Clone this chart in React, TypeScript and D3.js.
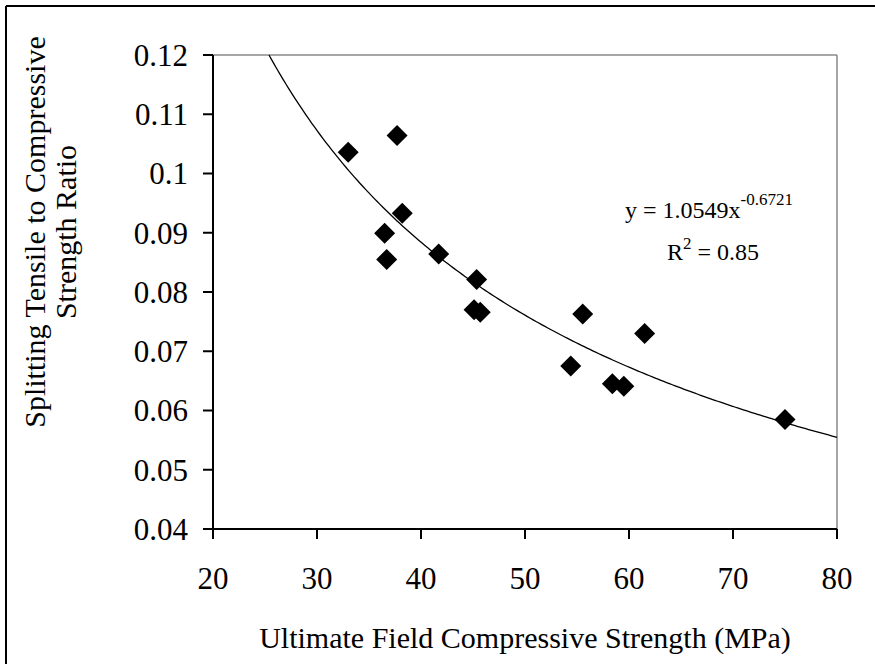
import React from "react";
import * as d3 from "d3";

const xValues = [33.0, 37.7, 38.2, 36.5, 36.7, 41.7, 45.35, 45.1, 45.7, 55.55, 54.4, 61.5, 58.4, 59.5, 75.0];
const yValues = [0.1036, 0.1064, 0.0933, 0.0899, 0.0855, 0.0864, 0.0821, 0.0770, 0.0766, 0.0763, 0.0675, 0.0730, 0.0645, 0.0641, 0.0585];
const xTicks = [20, 30, 40, 50, 60, 70, 80];
const yTicks = [0.04, 0.05, 0.06, 0.07, 0.08, 0.09, 0.1, 0.11, 0.12];
const trendCoef = 1.0549;
const trendExp = -0.6721;

const W = 875;
const H = 664;
const left = 213;
const right = 837;
const top = 55;
const bottom = 529;

export default function App() {
  const x = d3.scaleLinear().domain([20, 80]).range([left, right]);
  const y = d3.scaleLinear().domain([0.04, 0.12]).range([bottom, top]);

  const xStart = Math.pow(0.12 / trendCoef, 1 / trendExp);
  const curvePts: [number, number][] = d3.range(0, 201).map((i) => {
    const xv = xStart + ((80 - xStart) * i) / 200;
    return [xv, trendCoef * Math.pow(xv, trendExp)];
  });
  const line = d3
    .line<[number, number]>()
    .x((d) => x(d[0]))
    .y((d) => y(d[1]));

  const font = "'Liberation Serif', 'Times New Roman', serif";
  const d = 10.5;

  return (
    <svg
      width={W}
      height={H}
      style={{ position: "absolute", left: 0, top: 0, display: "block", background: "#fff" }}
      fontFamily={font}
    >
      <rect x={0} y={0} width={W} height={H} fill="#fff" />
      <line x1={6} y1={6} x2={W} y2={6} stroke="#000" strokeWidth={2} />
      <line x1={6} y1={6} x2={6} y2={H} stroke="#000" strokeWidth={2} />

      {/* plot frame top/right gray */}
      <line x1={left} y1={top} x2={right} y2={top} stroke="#888" strokeWidth={1.5} />
      <line x1={right} y1={top} x2={right} y2={bottom} stroke="#888" strokeWidth={1.5} />

      {/* y axis */}
      <line x1={left} y1={top} x2={left} y2={bottom + 10} stroke="#000" strokeWidth={2} />
      {yTicks.map((t) => (
        <g key={"y" + t}>
          <line x1={left - 10} x2={left} y1={y(t)} y2={y(t)} stroke="#000" strokeWidth={2} />
          <text x={188} y={y(t)} dy="0.35em" textAnchor="end" fontSize={31}>
            {String(t)}
          </text>
        </g>
      ))}

      {/* x axis */}
      <line x1={left - 10} y1={bottom} x2={right} y2={bottom} stroke="#000" strokeWidth={2} />
      {xTicks.map((t) => (
        <g key={"x" + t}>
          <line x1={x(t)} x2={x(t)} y1={bottom} y2={bottom + 10} stroke="#000" strokeWidth={2} />
          <text x={x(t)} y={589} textAnchor="middle" fontSize={31}>
            {String(t)}
          </text>
        </g>
      ))}

      {/* trendline */}
      <path d={line(curvePts) || ""} fill="none" stroke="#000" strokeWidth={1.3} />

      {/* points */}
      {xValues.map((xv, i) => {
        const cx = x(xv);
        const cy = y(yValues[i]);
        return (
          <path
            key={"p" + i}
            d={`M${cx},${cy - d}L${cx + d},${cy}L${cx},${cy + d}L${cx - d},${cy}Z`}
            fill="#000"
          />
        );
      })}

      {/* equation */}
      <text x={625} y={218} fontSize={24}>
        y = 1.0549x
        <tspan dy={-13} fontSize={17}>-0.6721</tspan>
      </text>
      <text x={667} y={260} fontSize={24}>
        R<tspan dy={-11} fontSize={17}>2</tspan>
        <tspan dy={11}> = 0.85</tspan>
      </text>

      {/* axis titles */}
      <text x={(left + right) / 2} y={648} textAnchor="middle" fontSize={30}>
        Ultimate Field Compressive Strength (MPa)
      </text>
      <g transform={`translate(0, 232) rotate(-90)`}>
        <text x={0} y={45} textAnchor="middle" fontSize={30}>
          Splitting Tensile to Compressive
        </text>
        <text x={0} y={76} textAnchor="middle" fontSize={30}>
          Strength Ratio
        </text>
      </g>
    </svg>
  );
}
